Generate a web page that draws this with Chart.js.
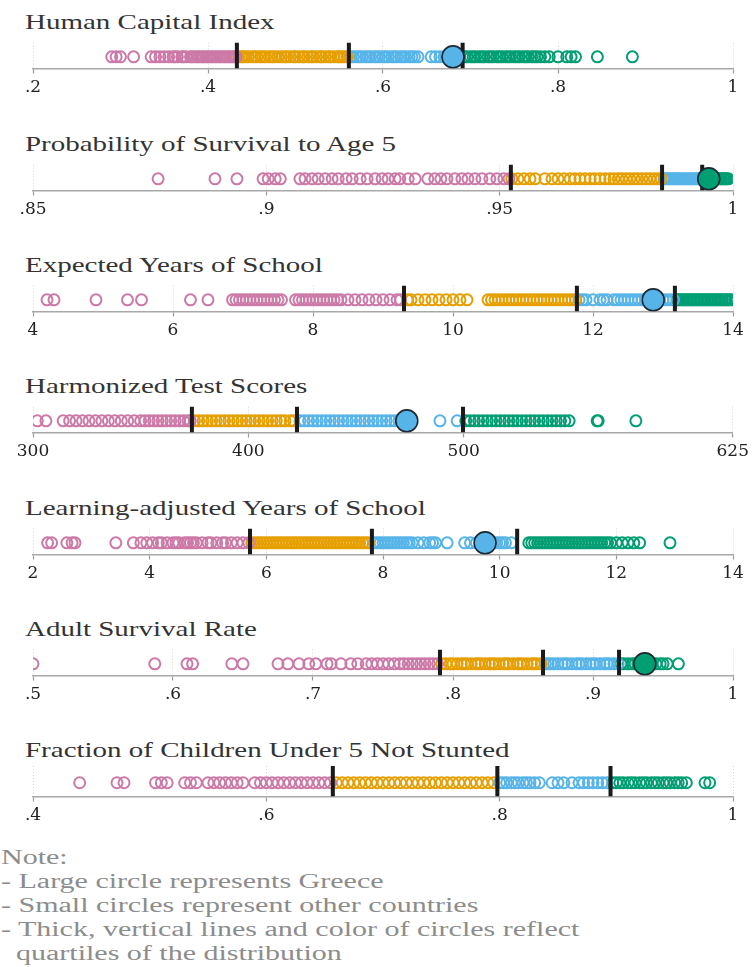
<!DOCTYPE html>
<html>
<head>
<meta charset="utf-8">
<script src="https://cdn.jsdelivr.net/npm/chart.js@4.4.1/dist/chart.umd.min.js"></script>
<style>
  html, body { margin: 0; padding: 0; background: #fff; }
  #page { position: relative; width: 753px; height: 967px; overflow: hidden; }
  .title { position: absolute; left: 25px; font-family: "Liberation Serif", serif; font-size: 21px; line-height: 26px;
           color: #333; white-space: nowrap; transform-origin: 0 50%; transform: scaleX(1.38); }
  .panel { position: absolute; left: 0; width: 753px; height: 69px; }
  #note { position: absolute; left: 1px; top: 845px; font-family: "Liberation Serif", serif; font-size: 20px; line-height: 24px;
          color: #8c8c8c; white-space: pre; transform-origin: 0 0; transform: scaleX(1.5); }
</style>
</head>
<body>
<div id="page"><div id="note"></div></div>
<script>
// ---- data ----
const panelTitles = [
  'Human Capital Index',
  'Probability of Survival to Age 5',
  'Expected Years of School',
  'Harmonized Test Scores',
  'Learning-adjusted Years of School',
  'Adult Survival Rate',
  'Fraction of Children Under 5 Not Stunted'
];

const hciTicks = [0.2, 0.4, 0.6, 0.8, 1];
const hciTickLabels = ['.2', '.4', '.6', '.8', '1'];
const hciCuts = [0.433, 0.561, 0.691];
const hciGreece = 0.68;
const hciValues = [
  0.29, 0.295, 0.30, 0.315, 0.335, 0.34, 0.345, 0.35, 0.355, 0.36, 0.362, 0.365, 0.37, 0.372, 0.375, 0.38, 0.382, 0.385,
  0.388, 0.39, 0.393, 0.395, 0.398, 0.40, 0.403, 0.405, 0.408, 0.41, 0.413, 0.415, 0.418, 0.42, 0.423, 0.425, 0.428, 0.43, 0.432,
  0.435, 0.438, 0.44, 0.443, 0.446, 0.45, 0.453, 0.456, 0.46, 0.463, 0.466, 0.47, 0.473, 0.476, 0.48, 0.484, 0.488, 0.49,
  0.494, 0.498, 0.50, 0.504, 0.508, 0.51, 0.514, 0.518, 0.52, 0.524, 0.528, 0.53, 0.534, 0.538, 0.54, 0.544, 0.548, 0.55,
  0.553, 0.556, 0.559,
  0.563, 0.566, 0.57, 0.573, 0.576, 0.58, 0.583, 0.586, 0.59, 0.593, 0.596, 0.60, 0.603, 0.606, 0.61, 0.613, 0.616, 0.62,
  0.623, 0.626, 0.63, 0.633, 0.636, 0.64, 0.655, 0.66, 0.665, 0.67, 0.675,
  0.693, 0.696, 0.70, 0.703, 0.706, 0.71, 0.713, 0.716, 0.72, 0.723, 0.726, 0.73, 0.733, 0.736, 0.74, 0.743, 0.746, 0.75,
  0.753, 0.756, 0.76, 0.763, 0.766, 0.77, 0.773, 0.776, 0.78, 0.785, 0.79, 0.80, 0.81, 0.815, 0.82, 0.845, 0.885
];

const u5Ticks = [0.85, 0.9, 0.95, 1];
const u5TickLabels = ['.85', '.9', '.95', '1'];
const u5Cuts = [0.9524, 0.9848, 0.9934];
const u5Greece = 0.9948;
const u5Values = [
  0.8768, 0.889, 0.8937, 0.8993, 0.9004, 0.9019, 0.903, 0.9072, 0.9083, 0.9098, 0.9111, 0.9126, 0.9141, 0.9154, 0.9171,
  0.9184, 0.9201, 0.9216, 0.9233, 0.9248, 0.9261, 0.9276, 0.9286, 0.9304, 0.9319, 0.9346, 0.9361, 0.9374, 0.9387, 0.9404,
  0.9419, 0.9432, 0.9447, 0.9462, 0.9479, 0.9494, 0.9509, 0.952,
  0.9526, 0.9539, 0.9552, 0.9565, 0.9576, 0.9597, 0.9612, 0.9625, 0.9638, 0.9651, 0.9661, 0.9672, 0.9683, 0.9694, 0.9704,
  0.9715, 0.9726, 0.9736, 0.9745, 0.9754, 0.9762, 0.9771, 0.9779, 0.9788, 0.9796, 0.9805, 0.9814, 0.9822, 0.9831, 0.9839, 0.9846,
  0.9852, 0.9856, 0.9861, 0.9865, 0.9869, 0.9874, 0.9878, 0.9882, 0.9886, 0.989, 0.9895, 0.99, 0.9904, 0.9908, 0.9912,
  0.9916, 0.9921, 0.9925, 0.9929, 0.9932,
  0.9937, 0.994, 0.9943, 0.9946, 0.995, 0.9953, 0.9957, 0.996, 0.9963, 0.9966, 0.997, 0.9973, 0.9976, 0.998, 0.9983, 0.9986, 0.999
];

const eysTicks = [4, 6, 8, 10, 12, 14];
const eysTickLabels = ['4', '6', '8', '10', '12', '14'];
const eysCuts = [9.3, 11.77, 13.17];
const eysGreece = 12.86;
const eysValues = [
  4.2, 4.3, 4.9, 5.35, 5.55, 6.25, 6.5, 6.85, 6.9, 6.95, 7.0, 7.05, 7.1, 7.15, 7.2, 7.25, 7.3, 7.35, 7.4, 7.45, 7.5, 7.55,
  7.75, 7.8, 7.85, 7.9, 7.95, 8.0, 8.05, 8.1, 8.15, 8.2, 8.25, 8.3, 8.35, 8.4, 8.5, 8.6, 8.7, 8.8, 8.9, 9.0, 9.1, 9.2, 9.25,
  9.35, 9.4, 9.5, 9.6, 9.7, 9.8, 9.9, 10.0, 10.1, 10.2,
  10.5, 10.55, 10.6, 10.65, 10.7, 10.75, 10.8, 10.85, 10.9, 10.95, 11.0, 11.05, 11.1, 11.15, 11.2, 11.25, 11.3, 11.35,
  11.4, 11.45, 11.5, 11.55, 11.6, 11.65, 11.7, 11.75,
  11.8, 11.85, 11.9, 12.0, 12.1, 12.15, 12.2, 12.3, 12.35, 12.4, 12.45, 12.5, 12.55, 12.6, 12.65, 12.7, 12.75, 12.9,
  12.95, 13.0, 13.05, 13.1, 13.15,
  13.2, 13.22, 13.25, 13.28, 13.3, 13.33, 13.35, 13.38, 13.4, 13.43, 13.45, 13.48, 13.5, 13.53, 13.55, 13.58, 13.6,
  13.63, 13.65, 13.68, 13.7, 13.73, 13.75, 13.78, 13.8, 13.83, 13.85, 13.88, 13.9, 13.93, 13.95, 13.98
];

const htsTicks = [300, 400, 500, 625];
const htsTickLabels = ['300', '400', '500', '625'];
const htsCuts = [373.8, 422.6, 499.7];
const htsGreece = 473.6;
const htsValues = [
  302, 306, 314, 317, 320, 323, 326, 329, 332, 335, 338, 341, 344, 347, 350, 352, 354, 356, 358, 360, 362, 364, 366, 368, 370, 372, 373,
  375, 377, 379, 381, 383, 385, 387, 389, 391, 393, 395, 397, 399, 401, 403, 405, 407, 409, 411, 413, 415, 417, 419.5, 421,
  424, 426, 428, 430, 432, 434, 436, 438, 440, 442, 444, 446, 448, 450, 452, 454, 456, 458, 460, 462, 464, 466, 468, 470, 489, 497,
  501, 503, 505, 507, 509, 511, 513, 515, 517, 519, 521, 523, 525, 527, 529, 531, 533, 535, 537, 539, 541, 543, 545, 547, 549,
  562, 562.5, 580
];

const laysTicks = [2, 4, 6, 8, 10, 12, 14];
const laysTickLabels = ['2', '4', '6', '8', '10', '12', '14'];
const laysCuts = [5.72, 7.81, 10.3];
const laysGreece = 9.75;
const laysValues = [
  2.25, 2.32, 2.58, 2.67, 2.72, 3.42, 3.72, 3.85, 3.95, 4.05, 4.15, 4.2, 4.3, 4.4, 4.45, 4.5, 4.6, 4.65, 4.7, 4.75, 4.8,
  4.9, 5.0, 5.05, 5.15, 5.25, 5.3, 5.4, 5.5, 5.6, 5.7,
  5.75, 5.8, 5.85, 5.9, 5.95, 6.0, 6.05, 6.1, 6.15, 6.2, 6.25, 6.3, 6.35, 6.4, 6.45, 6.5, 6.55, 6.6, 6.65, 6.7, 6.75,
  6.8, 6.85, 6.9, 6.95, 7.0, 7.05, 7.1, 7.15, 7.2, 7.25, 7.3, 7.35, 7.4, 7.45, 7.5, 7.55, 7.6, 7.65, 7.7, 7.75,
  7.85, 7.9, 7.95, 8.0, 8.05, 8.1, 8.15, 8.2, 8.25, 8.3, 8.35, 8.4, 8.45, 8.5, 8.6, 8.7, 8.8, 8.85, 8.9, 9.1, 9.4, 9.5,
  9.6, 9.9, 9.95, 10.0, 10.05, 10.1, 10.2,
  10.5, 10.55, 10.6, 10.65, 10.7, 10.75, 10.8, 10.85, 10.9, 10.95, 11.0, 11.05, 11.1, 11.15, 11.2, 11.25, 11.3, 11.35,
  11.4, 11.45, 11.5, 11.55, 11.6, 11.65, 11.7, 11.75, 11.8, 11.85, 11.9, 12.0, 12.1, 12.2, 12.3, 12.4, 12.92
];

const asrTicks = [0.5, 0.6, 0.7, 0.8, 0.9, 1];
const asrTickLabels = ['.5', '.6', '.7', '.8', '.9', '1'];
const asrCuts = [0.7907, 0.8643, 0.9186];
const asrGreece = 0.937;
const asrValues = [
  0.50, 0.587, 0.61, 0.614, 0.642, 0.65, 0.675, 0.682, 0.69, 0.697, 0.702, 0.71, 0.713, 0.72, 0.727, 0.732, 0.738, 0.742,
  0.746, 0.75, 0.754, 0.758, 0.762, 0.765, 0.768, 0.771, 0.774, 0.777, 0.78, 0.783, 0.786, 0.789,
  0.792, 0.795, 0.798, 0.80, 0.803, 0.806, 0.808, 0.81, 0.813, 0.816, 0.818, 0.82, 0.823, 0.826, 0.828, 0.83, 0.833,
  0.836, 0.838, 0.84, 0.843, 0.846, 0.848, 0.85, 0.853, 0.856, 0.858, 0.86, 0.863,
  0.866, 0.868, 0.87, 0.872, 0.875, 0.878, 0.88, 0.882, 0.885, 0.888, 0.89, 0.892, 0.895, 0.898, 0.90, 0.902, 0.905,
  0.908, 0.91, 0.912, 0.915, 0.918,
  0.92, 0.922, 0.925, 0.928, 0.93, 0.932, 0.935, 0.94, 0.942, 0.945, 0.948, 0.95, 0.953, 0.961
];

const stuntTicks = [0.4, 0.6, 0.8, 1];
const stuntTickLabels = ['.4', '.6', '.8', '1'];
const stuntCuts = [0.657, 0.798, 0.895];
const stuntGreece = null; // no value for Greece
const stuntValues = [
  0.44, 0.472, 0.478, 0.505, 0.51, 0.515, 0.53, 0.535, 0.54, 0.55, 0.555, 0.56, 0.565, 0.57, 0.575, 0.58, 0.59, 0.595,
  0.60, 0.605, 0.61, 0.615, 0.62, 0.625, 0.63, 0.635, 0.64, 0.645, 0.65, 0.655,
  0.66, 0.665, 0.67, 0.675, 0.68, 0.685, 0.69, 0.695, 0.70, 0.705, 0.71, 0.715, 0.72, 0.725, 0.73, 0.735, 0.74, 0.745,
  0.75, 0.755, 0.76, 0.765, 0.77, 0.775, 0.78, 0.785, 0.79, 0.795,
  0.80, 0.803, 0.806, 0.81, 0.813, 0.816, 0.82, 0.823, 0.826, 0.83, 0.834, 0.845, 0.85, 0.855, 0.862, 0.868, 0.872,
  0.876, 0.88, 0.884, 0.888, 0.892,
  0.897, 0.90, 0.903, 0.906, 0.91, 0.913, 0.916, 0.92, 0.923, 0.926, 0.93, 0.933, 0.936, 0.94, 0.943, 0.946, 0.95,
  0.953, 0.956, 0.96, 0.976, 0.98
];

const noteLines = [
  'Note:',
  '- Large circle represents Greece',
  '- Small circles represent other countries',
  '- Thick, vertical lines and color of circles reflect',
  '  quartiles of the distribution'
];

// ---- styling / layout ----
const QUART_COLORS = ['#cc79a7', '#e69f00', '#56b4e9', '#009e73'];
const axisY = [69, 191, 312, 433, 555, 676, 797];   // page y of each x axis line
const ROW_Y = 0.45;

const panels = [
  { values: hciValues, cuts: hciCuts, greece: hciGreece, ticks: hciTicks, labels: hciTickLabels },
  { values: u5Values, cuts: u5Cuts, greece: u5Greece, ticks: u5Ticks, labels: u5TickLabels },
  { values: eysValues, cuts: eysCuts, greece: eysGreece, ticks: eysTicks, labels: eysTickLabels },
  { values: htsValues, cuts: htsCuts, greece: htsGreece, ticks: htsTicks, labels: htsTickLabels },
  { values: laysValues, cuts: laysCuts, greece: laysGreece, ticks: laysTicks, labels: laysTickLabels },
  { values: asrValues, cuts: asrCuts, greece: asrGreece, ticks: asrTicks, labels: asrTickLabels },
  { values: stuntValues, cuts: stuntCuts, greece: stuntGreece, ticks: stuntTicks, labels: stuntTickLabels }
];

const page = document.getElementById('page');
document.getElementById('note').textContent = noteLines.join('\n');

function quartileOf(v, cuts){
  let q = 0;
  cuts.forEach(c => { if(v >= c) q++; });
  return q;
}

function buildPanel(p, i){
  const title = document.createElement('div');
  title.className = 'title';
  title.style.top = (axisY[i] - 60) + 'px';
  title.textContent = panelTitles[i];
  page.appendChild(title);

  const box = document.createElement('div');
  box.className = 'panel';
  box.style.top = (axisY[i] - 39) + 'px';
  const cv = document.createElement('canvas');
  box.appendChild(cv);
  page.appendChild(box);

  const groups = [[], [], [], []];
  p.values.forEach(v => groups[quartileOf(v, p.cuts)].push({ x: v, y: ROW_Y }));

  // first dataset is drawn on top
  const datasets = [];
  if(p.greece != null){
    datasets.push({
      data: [{ x: p.greece, y: ROW_Y }],
      pointRadius: 11, pointBorderWidth: 1.6,
      pointBackgroundColor: QUART_COLORS[quartileOf(p.greece, p.cuts)],
      pointBorderColor: '#1c2833'
    });
  }
  p.cuts.forEach(c => datasets.push({
    data: [{ x: c, y: 0 }, { x: c, y: 1 }],
    showLine: true, borderColor: '#1a1a1a', borderWidth: 4, pointRadius: 0, borderCapStyle: 'butt'
  }));
  groups.forEach((g, q) => datasets.push({
    data: g,
    pointRadius: 5.5, pointBorderWidth: 2,
    pointBackgroundColor: 'rgba(255,255,255,0)',
    pointBorderColor: QUART_COLORS[q]
  }));

  new Chart(cv, {
    type: 'scatter',
    data: { datasets },
    options: {
      responsive: true, maintainAspectRatio: false, animation: false, events: [],
      layout: { padding: { left: 33, right: 20, top: 8, bottom: 0 } },
      plugins: { legend: { display: false }, tooltip: { enabled: false } },
      scales: {
        x: {
          type: 'linear', min: p.ticks[0], max: p.ticks[p.ticks.length - 1],
          afterBuildTicks: s => { s.ticks = p.ticks.map(v => ({ value: v })); },
          ticks: {
            callback: (v, idx) => p.labels[idx],
            font: { family: 'DejaVu Serif', size: 17 }, color: '#222', padding: 4,
            maxRotation: 0, autoSkip: false
          },
          grid: { color: '#d6d6d6', lineWidth: 1, tickLength: 5, tickColor: '#9a9a9a', tickWidth: 1.2 },
          border: { display: true, color: '#a8a8a8', width: 1.5, dash: [1, 2] }
        },
        y: { display: false, min: 0, max: 1 }
      }
    }
  });
}

panels.forEach(buildPanel);
</script>
</body>
</html>
